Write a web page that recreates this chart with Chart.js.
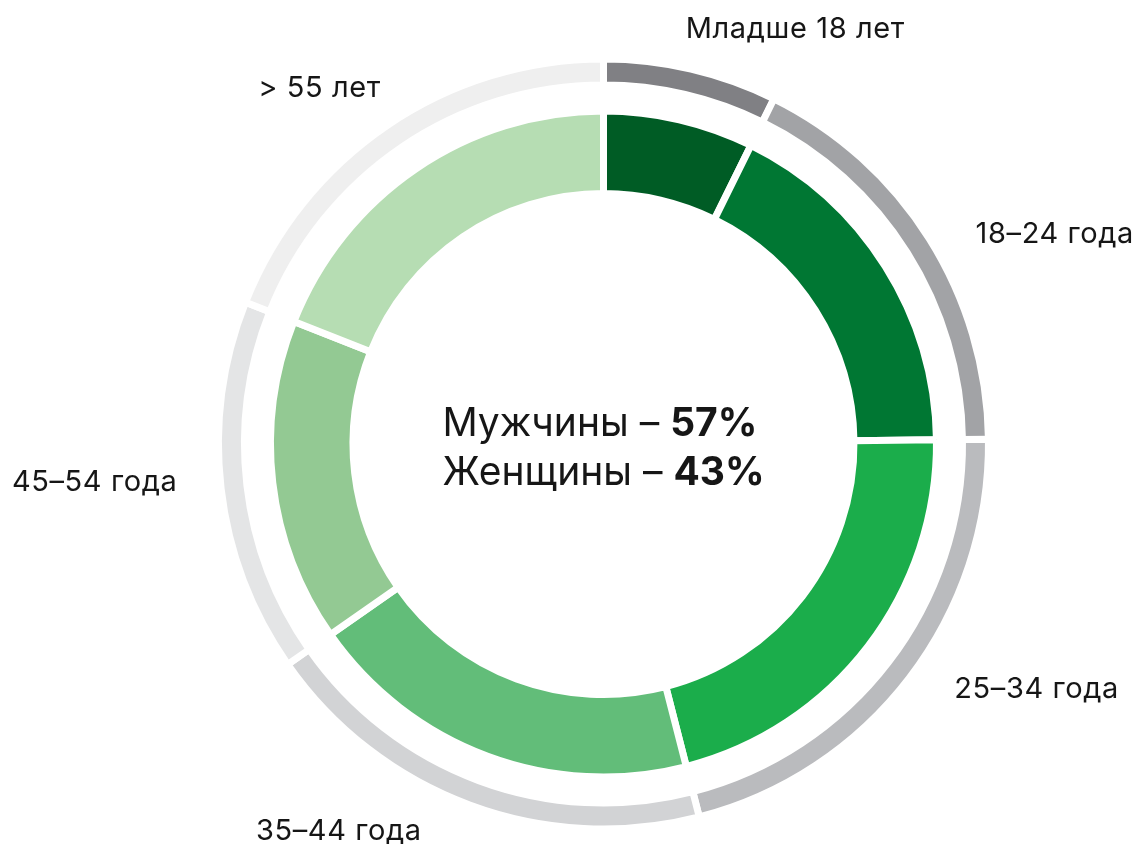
<!DOCTYPE html>
<html>
<head>
<meta charset="utf-8">
<script src="https://cdn.jsdelivr.net/npm/chart.js@4.4.1/dist/chart.umd.min.js"></script>
<style>
  html, body { margin: 0; padding: 0; background: #ffffff; }
  #wrap { width: 1136px; height: 844px; }
</style>
</head>
<body>
<div id="wrap"><canvas id="chart" width="1136" height="844"></canvas></div>
<script>
// Age structure of the audience, % of total
const ageGroups = ['Младше 18 лет', '18–24 года', '25–34 года', '35–44 года', '45–54 года', '> 55 лет'];
const ageShares = [7.3, 17.5, 21.2, 19.3, 15.7, 19.0];

// Gender split shown in the centre
const genderNames = ['Мужчины', 'Женщины'];
const genderShares = ['57%', '43%'];

// Palettes
const greenShades = ['#005c25', '#007733', '#1bad4b', '#62bd79', '#93c993', '#b6ddb3'];
const grayShades  = ['#808084', '#a2a3a6', '#babbbe', '#d2d3d5', '#e4e5e6', '#efefef'];

// Ring geometry (px): gap between segments, ring thicknesses and hole
const GAP = 7;
const OUTER_R = 385;        // outer edge of the grey ring (incl. half border)
const GREY_W = 26;
const SPACER_W = 26;
const GREEN_W = 82.5;
const HOLE_R = OUTER_R - GREY_W - SPACER_W - GREEN_W;

const FONT = 'Inter, "Noto Sans", sans-serif';
const LABEL_SIZE = 29;
const LABEL_SPACING = '0.6px';
const CENTER_SIZE = 39;
const TEXT_COLOR = '#161616';

// Fine placement of outer labels relative to their segment's mid-angle anchor
const labelNudges = [[-15, 0], [10, 17], [11, -17], [-33, -16], [-1, -13], [18, -3]];
const LABEL_DIST = 43;

const ringLabels = {
  id: 'ringLabels',
  afterDraw(chart) {
    const ctx = chart.ctx;
    const meta = chart.getDatasetMeta(0);
    ctx.save();
    ctx.fillStyle = TEXT_COLOR;
    ctx.font = `400 ${LABEL_SIZE}px ${FONT}`;
    ctx.letterSpacing = LABEL_SPACING;
    ctx.textBaseline = 'alphabetic';
    meta.data.forEach((arc, i) => {
      const mid = (arc.startAngle + arc.endAngle) / 2;
      const r = arc.outerRadius + LABEL_DIST;
      const ax = arc.x + Math.cos(mid) * r + labelNudges[i][0];
      const ay = arc.y + Math.sin(mid) * r + labelNudges[i][1];
      ctx.textAlign = Math.cos(mid) >= 0 ? 'left' : 'right';
      ctx.fillText(ageGroups[i], ax, ay + LABEL_SIZE * 0.36);
    });
    ctx.restore();
  }
};

const centerText = {
  id: 'centerText',
  afterDraw(chart) {
    const ctx = chart.ctx;
    const arc = chart.getDatasetMeta(0).data[0];
    const cx = arc.x, cy = arc.y;
    const normal = `400 ${CENTER_SIZE}px ${FONT}`;
    const bold = `700 ${CENTER_SIZE}px ${FONT}`;
    const lines = genderNames.map((n, i) => ({ head: n + ' – ', tail: genderShares[i] }));
    ctx.save();
    const widths = lines.map(l => {
      ctx.font = normal; const a = ctx.measureText(l.head).width;
      ctx.font = bold; const b = ctx.measureText(l.tail).width;
      return { a, b };
    });
    const blockW = Math.max(...widths.map(w => w.a + w.b));
    const x0 = cx - blockW / 2;
    const lineGap = 49;
    ctx.fillStyle = TEXT_COLOR;
    ctx.textAlign = 'left';
    ctx.textBaseline = 'alphabetic';
    lines.forEach((l, i) => {
      const y = cy - 8 + i * lineGap;
      ctx.font = normal;
      ctx.fillText(l.head, x0, y);
      ctx.font = bold;
      ctx.fillText(l.tail, x0 + widths[i].a, y);
    });
    ctx.restore();
  }
};

const side = 2 * OUTER_R + GAP;
const cxTarget = 603.5, cyTarget = 444;

new Chart(document.getElementById('chart'), {
  type: 'doughnut',
  data: {
    labels: ageGroups,
    datasets: [
      {
        data: ageShares, backgroundColor: grayShades,
        borderColor: '#ffffff', borderWidth: GAP, hoverBorderWidth: GAP,
        offset: 0, hoverOffset: 0, weight: GREY_W
      },
      {
        data: ageShares, backgroundColor: 'rgba(0,0,0,0)',
        borderColor: 'rgba(0,0,0,0)', borderWidth: 0, hoverBorderWidth: 0,
        offset: 0, hoverOffset: 0, weight: SPACER_W
      },
      {
        data: ageShares, backgroundColor: greenShades,
        borderColor: '#ffffff', borderWidth: GAP, hoverBorderWidth: GAP,
        offset: 0, hoverOffset: 0, weight: GREEN_W
      }
    ]
  },
  options: {
    responsive: false,
    animation: false,
    events: [],
    cutout: (HOLE_R / OUTER_R * 100) + '%',
    layout: {
      padding: {
        left: cxTarget - side / 2,
        right: 1136 - cxTarget - side / 2,
        top: cyTarget - side / 2,
        bottom: 844 - cyTarget - side / 2
      }
    },
    plugins: {
      legend: { display: false },
      tooltip: { enabled: false }
    }
  },
  plugins: [ringLabels, centerText]
});
</script>
</body>
</html>
